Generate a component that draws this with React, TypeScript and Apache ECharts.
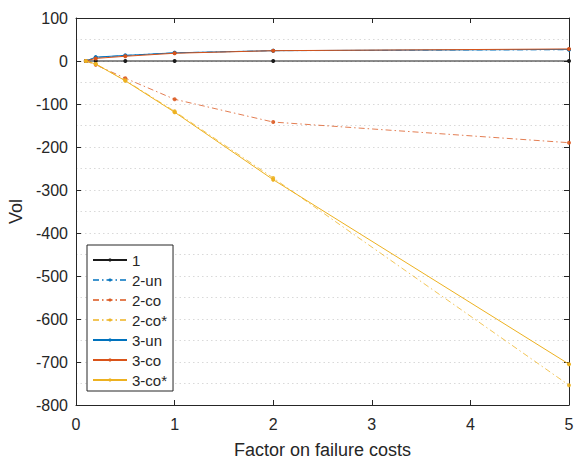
import React, { useEffect, useRef } from "react";
import * as echarts from "echarts";

const xs = [0.1, 0.2, 0.5, 1, 2, 5];
const s1 = [0, 0, 0, 0, 0, 0];
const s2un = [0, 8, 13, 19, 24, 26];
const s2co = [0, -9, -40, -89, -142, -190];
const s2coStar = [0, -7, -45, -117, -272, -754];
const s3un = [0, 9, 13, 19, 24, 27];
const s3co = [0, 6, 11, 18, 24, 28];
const s3coStar = [0, -7, -46, -119, -276, -705];
const seriesNames = ["1", "2-un", "2-co", "2-co*", "3-un", "3-co", "3-co*"];

const FONT = "'Liberation Sans', Arial, sans-serif";
const TXT = "#262626";
const dashDot = [6, 3, 1.5, 3];

function pairs(v: number[]) {
  return xs.map((x, i) => [x, v[i]]);
}

function mk(name: string, vals: number[], color: string, dashed: boolean, z: number) {
  return {
    name,
    type: "line",
    data: pairs(vals),
    symbol: "circle",
    symbolSize: 4,
    showSymbol: true,
    z,
    itemStyle: { color, opacity: dashed ? 0.85 : 1 },
    lineStyle: {
      color,
      width: 1,
      type: dashed ? dashDot : "solid",
      opacity: dashed ? 0.75 : 1,
    },
  };
}

export default function App() {
  const ref = useRef<HTMLDivElement>(null);
  useEffect(() => {
    if (!ref.current) return;
    const chart = echarts.init(ref.current, null, { renderer: "svg" });
    const blue = "#0072BD";
    const orange = "#D95319";
    const yellow = "#EDB120";
    const vals = [s1, s2un, s2co, s2coStar, s3un, s3co, s3coStar];
    const cols = ["#1a1a1a", blue, orange, yellow, blue, orange, yellow];
    const dash = [false, true, true, true, false, false, false];
    const series = seriesNames.map((n, i) => mk(n, vals[i], cols[i], dash[i], 2 + i * 0.01));
    const axisLine = { show: true, onZero: false, lineStyle: { color: TXT, width: 1 } };
    chart.setOption({
      animation: false,
      backgroundColor: "#fff",
      textStyle: { fontFamily: FONT },
      grid: { left: 76, right: 8, top: 18, bottom: 54, containLabel: false, outerBoundsMode: "none" },
      legend: {
        data: seriesNames,
        orient: "vertical",
        left: 87,
        top: 245,
        backgroundColor: "#fff",
        borderColor: TXT,
        borderWidth: 1,
        padding: [7, 6, 3, 5],
        itemGap: 4,
        itemWidth: 34,
        itemHeight: 4,
        itemTextGap: 4,
        textStyle: { fontSize: 15, color: TXT, fontFamily: FONT, lineHeight: 16 },
        z: 10,
      },
      xAxis: [
        {
          type: "value",
          min: 0,
          max: 5,
          interval: 1,
          position: "bottom",
          axisLine,
          axisTick: { show: true, inside: true, length: 5, lineStyle: { color: TXT } },
          axisLabel: { fontSize: 16, color: TXT, margin: 11, fontFamily: FONT },
          splitLine: { show: false },
          name: "Factor on failure costs",
          nameLocation: "middle",
          nameGap: 36,
          nameTextStyle: { fontSize: 18, color: TXT, fontFamily: FONT },
        },
        {
          type: "value",
          min: 0,
          max: 5,
          interval: 1,
          position: "top",
          axisLine,
          axisTick: { show: true, inside: true, length: 5, lineStyle: { color: TXT } },
          axisLabel: { show: false },
          splitLine: { show: false },
        },
      ],
      yAxis: [
        {
          type: "value",
          min: -800,
          max: 100,
          interval: 100,
          position: "left",
          axisLine,
          axisTick: { show: true, inside: true, length: 5, lineStyle: { color: TXT } },
          axisLabel: { fontSize: 16, color: TXT, margin: 8, fontFamily: FONT },
          splitLine: { show: true, lineStyle: { color: "#d9d9d9", type: [1.5, 3], width: 1 } },
          minorTick: { show: false, splitNumber: 2 },
          minorSplitLine: { show: true, lineStyle: { color: "#d9d9d9", type: [1.5, 3], width: 1 } },
          name: "Vol",
          nameLocation: "middle",
          nameGap: 47,
          nameTextStyle: { fontSize: 18, color: TXT, fontFamily: FONT },
        },
        {
          type: "value",
          min: -800,
          max: 100,
          interval: 100,
          position: "right",
          axisLine,
          axisTick: { show: true, inside: true, length: 5, lineStyle: { color: TXT } },
          axisLabel: { show: false },
          splitLine: { show: false },
        },
      ],
      series,
    });
    return () => chart.dispose();
  }, []);
  return <div ref={ref} style={{ width: 577, height: 459, position: "absolute", left: 0, top: 0 }} />;
}
